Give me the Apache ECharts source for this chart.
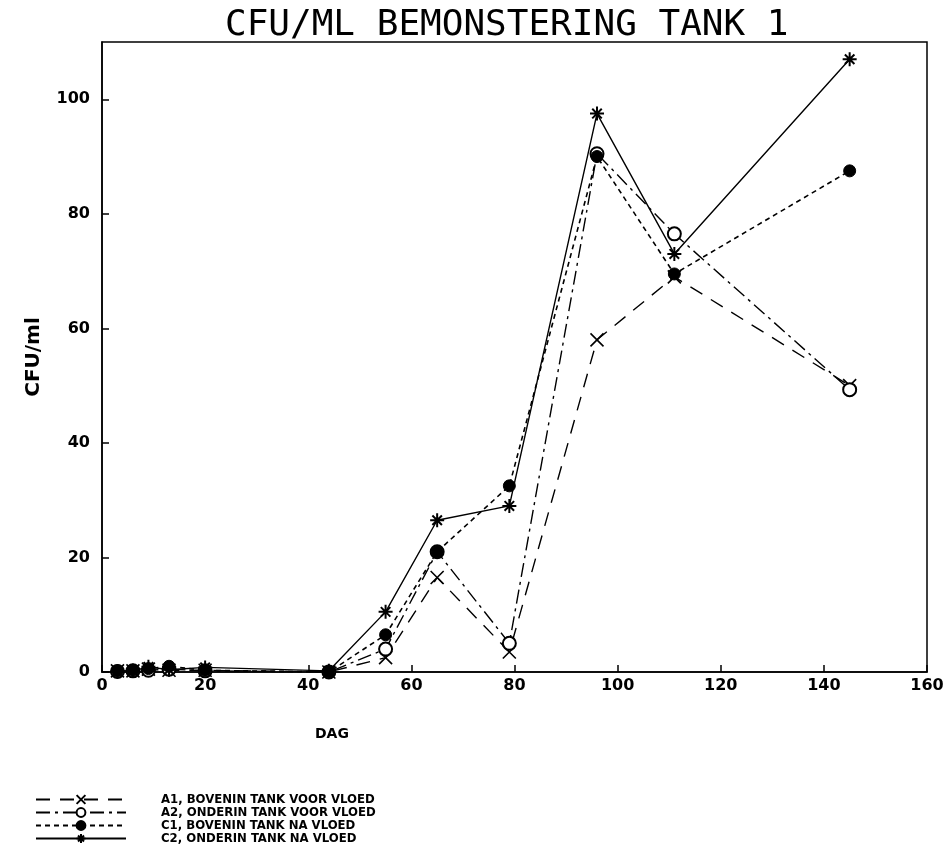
<!DOCTYPE html>
<html>
<head>
<meta charset="utf-8">
<script src="https://cdn.jsdelivr.net/npm/echarts@6/dist/echarts.min.js"></script>
<style>
html,body{margin:0;padding:0;background:#fff;}
#chart{width:950px;height:865px;}
</style>
</head>
<body>
<div id="chart"></div>
<script>
// Days of sampling
var days = [3, 6, 9, 13, 20, 44, 55, 65, 79, 96, 111, 145];
// Series values (CFU/ml)
var A1 = [0.2, 0.2, 0.5, 0.3, 0.3, 0, 2.5, 16.5, 3.5, 58, 69, 50];
var A2 = [0.1, 0.2, 0.3, 0.5, 0.2, 0, 4, 21, 5, 90.5, 76.5, 49.3];
var C1 = [0.2, 0.3, 0.6, 1.0, 0.3, 0, 6.5, 21, 32.5, 90, 69.5, 87.5];
var C2 = [0.1, 0.2, 0.9, 0.4, 0.8, 0.2, 10.5, 26.5, 29, 97.5, 73, 107];
var seriesNames = [
  'A1, BOVENIN TANK VOOR VLOED',
  'A2, ONDERIN TANK VOOR VLOED',
  'C1, BOVENIN TANK NA VLOED',
  'C2, ONDERIN TANK NA VLOED'
];
var titleText = 'CFU/ML BEMONSTERING TANK 1';
var xName = 'DAG';
var yName = 'CFU/ml';

function pairs(vals) {
  return days.map(function (d, i) { return [d, vals[i]]; });
}

var crossPath = 'path://M0,0L10,10M10,0L0,10';
var starPath = 'path://M5,0L5,10M0,5L10,5M1.6,1.6L8.4,8.4M8.4,1.6L1.6,8.4';

var chart = echarts.init(document.getElementById('chart'), null, {renderer: 'canvas'});
var option = {
  backgroundColor: '#fff',
  animation: false,
  title: [
    {
      text: titleText,
      left: 220,
      top: 3,
      textStyle: {fontFamily: 'DejaVu Sans Mono', fontSize: 36, fontWeight: 'normal', color: '#000'}
    },
    {
      text: xName,
      left: 310,
      top: 722,
      textStyle: {fontFamily: 'DejaVu Sans', fontSize: 14, fontWeight: 'bold', color: '#000'}
    }
  ],
  legend: {
    orient: 'vertical',
    left: 30,
    top: 788,
    itemWidth: 90,
    itemHeight: 11,
    itemGap: 0,
    data: seriesNames,
    textStyle: {
      fontFamily: 'DejaVu Sans Condensed',
      fontWeight: 'bold',
      fontSize: 13,
      lineHeight: 13,
      color: '#000',
      padding: [0, 0, 0, 30]
    }
  },
  grid: {
    left: 102, right: 23, top: 42, bottom: 193,
    show: true, borderColor: '#000', borderWidth: 1.5, backgroundColor: 'transparent'
  },
  xAxis: {
    type: 'value', min: 0, max: 160, interval: 20,
    axisLine: {show: true, onZero: false, lineStyle: {color: '#000', width: 1.5}},
    axisTick: {show: true, inside: true, length: 7, lineStyle: {color: '#000', width: 1.5}},
    splitLine: {show: false},
    axisLabel: {color: '#000', fontFamily: 'DejaVu Sans', fontWeight: 'bold', fontSize: 16, margin: 6}
  },
  yAxis: {
    type: 'value', min: 0, max: 110, interval: 20,
    name: yName, nameLocation: 'middle', nameGap: 58, nameRotate: 90,
    nameTextStyle: {color: '#000', fontFamily: 'DejaVu Sans', fontWeight: 'bold', fontSize: 20},
    axisLine: {show: true, lineStyle: {color: '#000', width: 1.5}},
    axisTick: {show: true, inside: true, length: 7, lineStyle: {color: '#000', width: 1.5}},
    splitLine: {show: false},
    axisLabel: {color: '#000', fontFamily: 'DejaVu Sans', fontWeight: 'bold', fontSize: 16, margin: 12, showMaxLabel: false}
  },
  series: [
    {
      name: seriesNames[0], type: 'line', data: pairs(A1),
      symbol: crossPath, symbolSize: 13,
      itemStyle: {color: '#000', borderColor: '#000', borderWidth: 1.6},
      lineStyle: {color: '#000', width: 1.4, type: [14, 10]},
      z: 2
    },
    {
      name: seriesNames[1], type: 'line', data: pairs(A2),
      symbol: 'emptyCircle', symbolSize: 13,
      itemStyle: {color: '#000', borderColor: '#000', borderWidth: 1.6},
      lineStyle: {color: '#000', width: 1.4, type: [14, 5, 3, 5]},
      z: 3
    },
    {
      name: seriesNames[2], type: 'line', data: pairs(C1),
      symbol: 'circle', symbolSize: 12,
      itemStyle: {color: '#000', borderColor: '#000', borderWidth: 1},
      lineStyle: {color: '#000', width: 1.6, type: [5, 4]},
      z: 4
    },
    {
      name: seriesNames[3], type: 'line', data: pairs(C2),
      symbol: starPath, symbolSize: 14,
      itemStyle: {color: '#000', borderColor: '#000', borderWidth: 2},
      lineStyle: {color: '#000', width: 1.4, type: 'solid'},
      z: 5
    }
  ]
};
chart.setOption(option);
</script>
</body>
</html>
